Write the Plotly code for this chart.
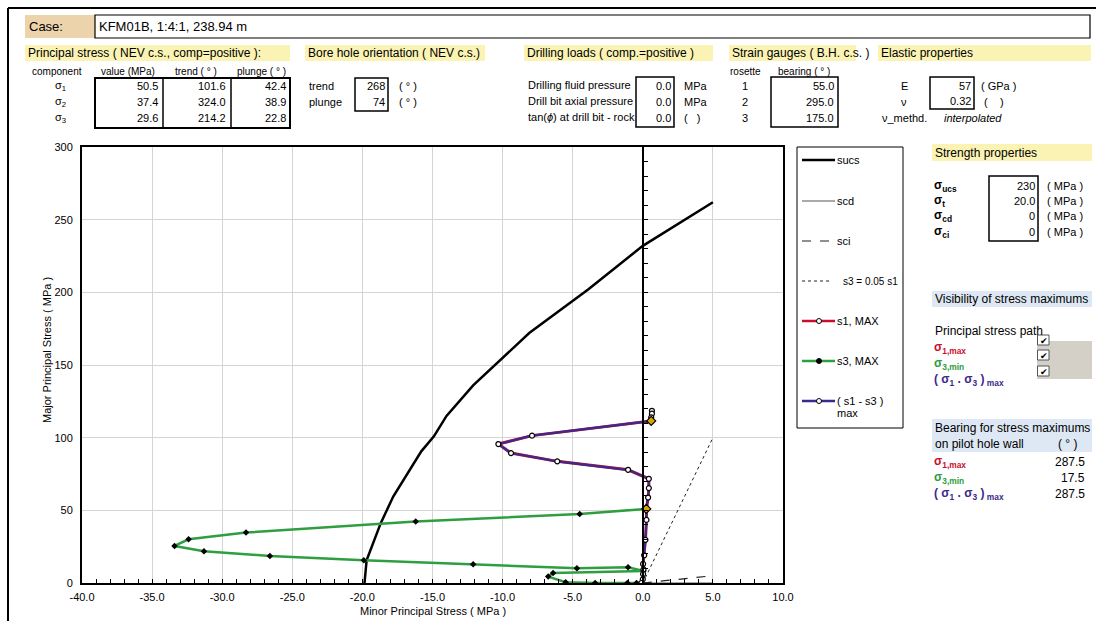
import plotly.graph_objects as go

W, H = 1096, 621

# ---------------- data ----------------
sucs_x = [-19.85, -19.7, -18.7, -17.8, -15.8, -14.9, -14.0, -12.1, -8.1, -3.9, 0.0, 5.0]
sucs_y = [0.0, 15.6, 41.0, 59.5, 90.6, 100.9, 115.0, 136.0, 172.0, 202.0, 232.0, 262.0]

scd_x = [0.0, 5.0]
scd_y = [0.0, 0.0]

sci_x = [0.0, 5.0]
sci_y = [0.0, 5.0]

ratio_x = [0.0, 5.0]
ratio_y = [0.0, 100.0]

s3max_x = [0.2, -4.5, -16.2, -28.3, -32.4, -33.4, -31.3, -26.6, -19.9, -12.1,
           -4.7, -1.05, 0.05, -6.4, -6.75, -5.5, -3.4, -1.1, -0.45, -0.1]
s3max_y = [51.0, 47.4, 42.3, 34.7, 30.1, 25.5, 21.8, 18.6, 15.6, 12.9,
           10.1, 10.8, 8.3, 6.9, 4.4, 0.5, 0.0, 0.0, 0.0, 0.0]

dmax_x = [0.65, 0.65, 0.6, 0.6, -7.9, -10.3, -9.4, -6.1, -1.05, 0.43, 0.43,
          0.38, 0.26, 0.26, 0.19, 0.1, 0.02, 0.05, 0.02, 0.0, -0.1]
dmax_y = [118.5, 116.5, 114.0, 111.5, 101.4, 95.6, 89.4, 83.7, 77.9, 71.7, 65.3,
          58.8, 51.5, 43.4, 29.7, 19.1, 13.1, 9.4, 6.2, 2.5, 0.0]

s1max_x = list(dmax_x)
s1max_y = list(dmax_y)

peak_x = [0.6, 0.25]
peak_y = [111.5, 51.0]

x_ticks = [-40, -35, -30, -25, -20, -15, -10, -5, 0, 5, 10]
y_ticks = [0, 50, 100, 150, 200, 250, 300]

# table contents
ps_comp = ["σ<sub>1</sub>", "σ<sub>2</sub>", "σ<sub>3</sub>"]
ps_value = ["50.5", "37.4", "29.6"]
ps_trend = ["101.6", "324.0", "214.2"]
ps_plunge = ["42.4", "38.9", "22.8"]
bh_labels = ["trend", "plunge"]
bh_values = ["268", "74"]
dl_labels = ["Drilling fluid pressure", "Drill bit axial pressure", "tan(<i>ϕ</i>) at drill bit - rock"]
dl_values = ["0.0", "0.0", "0.0"]
dl_units = ["MPa", "MPa", "(   )"]
sg_rosette = ["1", "2", "3"]
sg_bearing = ["55.0", "295.0", "175.0"]
sp_labels = ["<b>σ<sub>ucs</sub></b>", "<b>σ<sub>t</sub></b>", "<b>σ<sub>cd</sub></b>", "<b>σ<sub>ci</sub></b>"]
sp_values = ["230", "20.0", "0", "0"]
bear_values = ["287.5", "17.5", "287.5"]

RED = "#C8102E"
GREEN = "#2E9E40"
PURPLE = "#3B2A8C"
FONT = "Liberation Sans, Arial, sans-serif"
FS = 11        # data text size
FH = 12        # header size


def X(px):
    return px / W


def Y(py):
    return 1 - py / H


fig = go.Figure()

fig.add_trace(go.Scatter(x=sucs_x, y=sucs_y, mode="lines", line=dict(color="black", width=2.5),
                         name="sucs", hoverinfo="skip"))
fig.add_trace(go.Scatter(x=scd_x, y=scd_y, mode="lines", line=dict(color="#555555", width=1),
                         name="scd", hoverinfo="skip"))
fig.add_trace(go.Scatter(x=sci_x, y=sci_y, mode="lines", line=dict(color="#222222", width=1.2, dash="dash"),
                         name="sci", hoverinfo="skip"))
fig.add_trace(go.Scatter(x=ratio_x, y=ratio_y, mode="lines", line=dict(color="#222222", width=1, dash="dot"),
                         name="s3 = 0.05 s1", hoverinfo="skip"))
fig.add_trace(go.Scatter(x=s3max_x, y=s3max_y, mode="lines+markers",
                         line=dict(color=GREEN, width=2.5),
                         marker=dict(color="black", size=5, symbol="diamond"),
                         name="s3, MAX", hoverinfo="skip"))
fig.add_trace(go.Scatter(x=s1max_x, y=s1max_y, mode="lines",
                         line=dict(color=RED, width=3),
                         name="s1, MAX", hoverinfo="skip"))
fig.add_trace(go.Scatter(x=dmax_x, y=dmax_y, mode="lines+markers",
                         line=dict(color=PURPLE, width=2.2),
                         marker=dict(color="white", size=5, line=dict(color="black", width=1.2)),
                         name="( s1 - s3 ) max", hoverinfo="skip"))
fig.add_trace(go.Scatter(x=peak_x, y=peak_y, mode="markers",
                         marker=dict(color="#D9A400", size=7, symbol="diamond",
                                     line=dict(color="black", width=1.2)),
                         hoverinfo="skip"))
# invisible trace to activate the axis crossing at x = 0
fig.add_trace(go.Scatter(x=[0], y=[0], yaxis="y2", mode="markers", marker=dict(opacity=0),
                         hoverinfo="skip"))

x0p, x1p = 82, 783
y0p, y1p = 147, 583

fig.update_layout(
    width=W, height=H, margin=dict(l=0, r=0, t=0, b=0),
    paper_bgcolor="white", plot_bgcolor="white", showlegend=False,
    font=dict(family=FONT, size=11, color="black"),
    xaxis=dict(domain=[X(x0p), X(x1p)], range=[-40, 10], tickvals=x_ticks,
               ticktext=["%.1f" % v for v in x_ticks], showgrid=True, gridcolor="#D4D4D4",
               gridwidth=1, ticks="inside", ticklen=4, tickcolor="black",
               minor=dict(dtick=1, ticks="inside", ticklen=4, tickcolor="black", showgrid=False),
               showline=True, linecolor="black", linewidth=2, mirror=True, zeroline=False,
               tickfont=dict(size=11, family=FONT), automargin=False, fixedrange=True,
               ticklabelstandoff=3),
    yaxis=dict(domain=[Y(y1p), Y(y0p)], range=[0, 300], tickvals=y_ticks,
               showgrid=True, gridcolor="#D4D4D4", gridwidth=1, ticks="",
               showline=True, linecolor="black", linewidth=2, mirror=True, zeroline=False,
               tickfont=dict(size=11, family=FONT), automargin=False, ticklabelstandoff=5,
               fixedrange=True),
    yaxis2=dict(overlaying="y", anchor="free", side="left",
                position=X(x0p + 0.8 * (x1p - x0p)), range=[0, 300], dtick=10,
                ticks="inside", ticklen=4, tickcolor="black", showticklabels=False,
                showgrid=False, zeroline=False, showline=True, linecolor="black",
                linewidth=1.5, automargin=False, fixedrange=True),
)

shapes = []
ann = []


def rect(xa, ya, xb, yb, fill=None, lc=None, lw=1):
    shapes.append(dict(type="rect", xref="paper", yref="paper",
                       x0=X(xa), x1=X(xb), y0=Y(yb), y1=Y(ya),
                       fillcolor=fill if fill else "rgba(0,0,0,0)",
                       line=dict(color=lc if lc else "rgba(0,0,0,0)", width=lw if lc else 0),
                       layer="above" if fill is None else "below"))


def hline(xa, xb, y, color="black", width=1):
    shapes.append(dict(type="line", xref="paper", yref="paper", x0=X(xa), x1=X(xb),
                       y0=Y(y), y1=Y(y), line=dict(color=color, width=width)))


def vline(x, ya, yb, color="black", width=1):
    shapes.append(dict(type="line", xref="paper", yref="paper", x0=X(x), x1=X(x),
                       y0=Y(ya), y1=Y(yb), line=dict(color=color, width=width)))


def text(px, py, s, anchor="left", size=FS, color="black", angle=0):
    ann.append(dict(x=X(px), y=Y(py), xref="paper", yref="paper", text=s, showarrow=False,
                    xanchor=anchor, yanchor="middle", textangle=angle,
                    font=dict(family=FONT, size=size, color=color), borderpad=0))


# outer frame
hline(8, W, 8, width=2)
vline(8, 8, H, width=2)

# case row
rect(25, 15, 95, 38, fill="#ECD3AC")
rect(95, 15, 1090, 38, lc="black", lw=1.2)
text(28, 27, "Case:", size=13)
text(98, 27, "KFM01B, 1:4:1, 238.94 m", size=13)

# yellow headers
for xa, xb, s in [(25, 290, "Principal stress ( NEV c.s., comp=positive ):"),
                  (305, 485, "Bore hole orientation ( NEV c.s.)"),
                  (524, 713, "Drilling loads ( comp.=positive )"),
                  (729, 856, "Strain gauges ( B.H. c.s. )"),
                  (878, 1091, "Elastic properties")]:
    rect(xa, 45, xb, 61, fill="#FAF3B4")
    text(xa + 2, 53.5, s, size=FH)

rows = [86, 102, 118]
# principal stress table
text(57, 72, "component", anchor="center", size=10)
text(128, 72, "value (MPa)", anchor="center", size=10)
text(196, 72, "trend ( ° )", anchor="center", size=10)
text(261, 72, "plunge ( ° )", anchor="center", size=10)
rect(95, 78, 290, 128, lc="black", lw=2)
vline(163, 78, 128, width=1.5)
vline(231, 78, 128, width=1.5)
for i, r in enumerate(rows):
    text(60, r, ps_comp[i], anchor="center")
    text(159, r, ps_value[i], anchor="right")
    text(227, r, ps_trend[i], anchor="right")
    text(287, r, ps_plunge[i], anchor="right")

# bore hole orientation
rect(355, 78, 388, 111, lc="black", lw=1.5)
for i in range(2):
    text(308, rows[i], bh_labels[i])
    text(386, rows[i], bh_values[i], anchor="right")
    text(398, rows[i], "( ° )")

# drilling loads
rect(636, 77, 674, 127, lc="black", lw=1.5)
for i, r in enumerate(rows):
    text(527, r - 1, dl_labels[i])
    text(672, r, dl_values[i], anchor="right")
    text(683, r, dl_units[i])

# strain gauges
text(745, 72, "rosette", anchor="center", size=10)
text(804, 72, "bearing ( ° )", anchor="center", size=10)
rect(771, 77, 838, 127, lc="black", lw=1.5)
for i, r in enumerate(rows):
    text(745, r, sg_rosette[i], anchor="center")
    text(835, r, sg_bearing[i], anchor="right")

# elastic properties
rect(930, 77, 974, 109, lc="black", lw=1.5)
text(904, 86, "E", anchor="center")
text(904, 102, "ν", anchor="center")
text(904, 118, "ν_methd.", anchor="center")
text(972, 86, "57", anchor="right")
text(972, 101, "0.32", anchor="right")
text(980, 86, "( GPa )")
text(983, 102, "(    )")
text(973, 118, "<i>interpolated</i>", anchor="center")

# strength properties
rect(932, 144, 1092, 161, fill="#FAF3B4")
text(934, 152.5, "Strength properties", size=FH)
rect(989, 176, 1038, 241, lc="black", lw=1.5)
for i, r in enumerate([186, 201, 216, 232]):
    text(933, r, sp_labels[i], size=12)
    text(1036, r, sp_values[i], anchor="right")
    text(1046, r, "( MPa )")

# visibility
rect(932, 291, 1092, 307, fill="#DDE8F4")
text(934, 299, "Visibility of stress maximums", size=FH)
text(934, 331, "Principal stress path", size=FH)
rect(1037, 341, 1092, 379, fill="#D4D0C8")
for cy in [340, 355, 371]:
    rect(1037.5, cy - 5, 1049, cy + 5, fill="white")
    rect(1037.5, cy - 5, 1049, cy + 5, lc="#555555", lw=1)
    text(1043.5, cy + 0.5, "✔", anchor="center", size=9)
lab1 = "<b>σ<sub>1,max</sub></b>"
lab3 = "<b>σ<sub>3,min</sub></b>"
labd = "<b>( σ<sub>1</sub> . σ<sub>3</sub> )<sub> max</sub></b>"
text(933, 348, lab1, size=12, color=RED)
text(933, 364, lab3, size=12, color=GREEN)
text(933, 380, labd, size=12, color=PURPLE)

# bearing
rect(932, 419, 1092, 452, fill="#DDE8F4")
text(934, 428, "Bearing for stress maximums", size=FH)
text(934, 444, "on pilot hole wall", size=FH)
text(1067, 444, "( ° )", anchor="center", size=FH)
for i, (r, lab, col) in enumerate([(462, lab1, RED), (478, lab3, GREEN), (494, labd, PURPLE)]):
    text(933, r, lab, size=12, color=col)
    text(1086, r, bear_values[i], anchor="right", size=FH)

# manual legend
rect(797, 147, 903, 428, lc="black", lw=1)
lx0, lx1 = 802, 835
items = [
    (160, "sucs", dict(color="black", width=2.5), None),
    (201, "scd", dict(color="#555555", width=1), None),
    (241, "sci", dict(color="#222222", width=1.2, dash="dash"), None),
    (281, "s3 = 0.05 s1", dict(color="#222222", width=1, dash="dot"), None),
    (321, "s1, MAX", dict(color=RED, width=2.5), "white"),
    (361, "s3, MAX", dict(color=GREEN, width=2.5), "black"),
    (401, "( s1 - s3 )", dict(color=PURPLE, width=2.5), "white"),
]
for yy, lab, ln, mk in items:
    is_ratio = lab == "s3 = 0.05 s1"
    xe = 832 if is_ratio else lx1
    shapes.append(dict(type="line", xref="paper", yref="paper", x0=X(lx0), x1=X(xe),
                       y0=Y(yy), y1=Y(yy), line=ln))
    if mk:
        shapes.append(dict(type="circle", xref="paper", yref="paper",
                           x0=X(816.5), x1=X(821.5), y0=Y(yy + 2.5), y1=Y(yy - 2.5),
                           fillcolor=mk, line=dict(color="black", width=1)))
    text(842 if is_ratio else xe + 1, yy, lab, size=10 if is_ratio else 11)
text(836, 413, "max", size=11)

# axis titles
text(433, 611, "Minor Principal Stress ( MPa )", anchor="center", size=11)
ann.append(dict(x=X(47), y=Y(350), xref="paper", yref="paper", text="Major Principal Stress ( MPa )",
                showarrow=False, textangle=-90, xanchor="center", yanchor="middle",
                font=dict(family=FONT, size=11, color="black")))

fig.update_layout(shapes=shapes, annotations=ann)
fig.write_html("out.html")
